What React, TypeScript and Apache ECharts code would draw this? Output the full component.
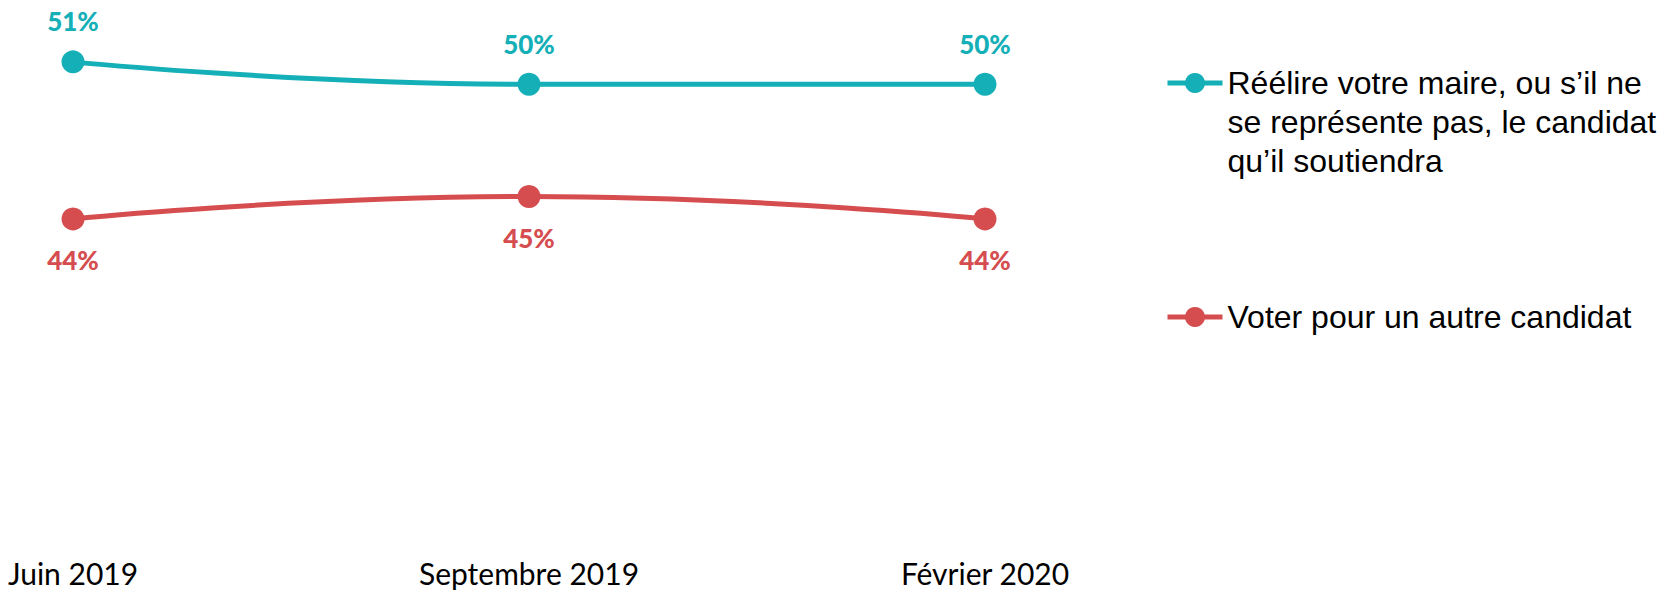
import React, { useEffect, useRef } from "react";
import * as echarts from "echarts";

const categories = ["Juin 2019", "Septembre 2019", "Février 2020"];
const seriesNames = [
  "Réélire votre maire, ou s’il ne se représente pas, le candidat qu’il soutiendra",
  "Voter pour un autre candidat",
];
const reelireValues = [51, 50, 50];
const autreValues = [44, 45, 44];
const legendLines: Record<string, string> = {
  [seriesNames[0]]: "\n\nRéélire votre maire, ou s’il ne\nse représente pas, le candidat\nqu’il soutiendra",
  [seriesNames[1]]: "Voter pour un autre candidat",
};

const CYAN = "#14AFB7";
const RED = "#D64D50";

export default function App() {
  const ref = useRef<HTMLDivElement>(null);
  useEffect(() => {
    if (!ref.current) return;
    const chart = echarts.init(ref.current, undefined, { renderer: "svg" });
    const legendText = {
      fontFamily: "Liberation Sans",
      fontSize: 32,
      color: "#000",
      lineHeight: 39,
    };
    const legendCommon = {
      left: 1165,
      padding: 0,
      itemWidth: 55,
      itemHeight: 25,
      lineStyle: { width: 5 },
      formatter: (n: string) => legendLines[n],
      textStyle: legendText,
    };
    const labelCommon = {
      show: true,
      formatter: "{c}%",
      fontFamily: "Lato",
      fontWeight: 900,
      fontSize: 26,
    };
    chart.setOption({
      animation: false,
      backgroundColor: "#fff",
      grid: { left: 73, right: 684, top: 17, bottom: 60 },
      xAxis: {
        type: "category",
        data: categories,
        boundaryGap: false,
        axisLine: { show: false },
        axisTick: { show: false },
        splitLine: { show: false },
        axisLabel: {
          interval: 0,
          margin: 28,
          fontFamily: "Lato",
          fontSize: 30,
          lineHeight: 24,
          color: "#000",
        },
      },
      yAxis: {
        type: "value",
        min: 30,
        max: 53,
        show: false,
        splitLine: { show: false },
      },
      legend: [
        { ...legendCommon, data: [seriesNames[0]], top: -14.5 },
        { ...legendCommon, data: [seriesNames[1]], top: 297.5 },
      ],
      series: [
        {
          name: seriesNames[0],
          type: "line",
          data: reelireValues,
          smooth: 0.5,
          symbol: "circle",
          symbolSize: 23,
          color: CYAN,
          lineStyle: { width: 5, color: CYAN },
          itemStyle: { color: CYAN },
          label: { ...labelCommon, position: "top", distance: 16, color: CYAN },
        },
        {
          name: seriesNames[1],
          type: "line",
          data: autreValues,
          smooth: 0.5,
          symbol: "circle",
          symbolSize: 23,
          color: RED,
          lineStyle: { width: 5, color: RED },
          itemStyle: { color: RED },
          label: { ...labelCommon, position: "bottom", distance: 17, color: RED },
        },
      ],
    });
    return () => chart.dispose();
  }, []);
  return (
    <div
      ref={ref}
      style={{ position: "fixed", left: 0, top: 0, width: 1669, height: 593 }}
    />
  );
}
